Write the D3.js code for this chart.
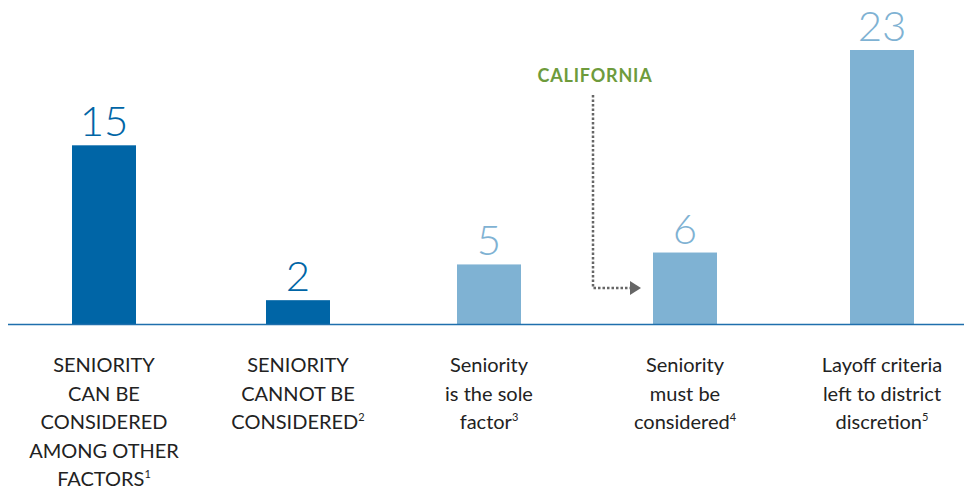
<!DOCTYPE html>
<html lang="en">
<head>
<meta charset="utf-8">
<title>Seniority in layoff decisions</title>
<script src="https://d3js.org/d3.v7.min.js"></script>
<style>
  body { margin: 0; background: #fff; }
  svg text { font-family: Lato, "Open Sans", sans-serif; }
  .cat { fill: #222; font-size: 20px; }
  .val { font-size: 42px; font-weight: 300; }
</style>
</head>
<body>
<div id="chart"></div>
<script>
  // data
  var categories = ["can", "cannot", "sole", "must", "left"];
  var values = [15, 2, 5, 6, 23];
  var shades = ["dark", "dark", "light", "light", "light"];
  var labels = [
    ["SENIORITY", "CAN BE", "CONSIDERED", "AMONG OTHER", "FACTORS|1"],
    ["SENIORITY", "CANNOT BE", "CONSIDERED|2"],
    ["Seniority", "is the sole", "factor|3"],
    ["Seniority", "must be", "considered|4"],
    ["Layoff criteria", "left to district", "discretion|5"]
  ];
  var calloutText = "CALIFORNIA";
  var calloutTarget = "must";

  var W = 964, H = 489;
  var colors = {dark: "#0065a6", light: "#7fb2d3"};

  var svg = d3.select("#chart").append("svg")
    .attr("width", W).attr("height", H);

  // column centres are not quite evenly spaced in the original
  var x = d3.scaleOrdinal().domain(categories).range([104, 298, 489, 685, 882]);
  var y = d3.scaleLinear().domain([0, 23]).range([324, 50]);
  var barW = 64;

  // bars
  svg.selectAll("rect.bar").data(values).enter().append("rect")
    .attr("class", "bar")
    .attr("x", function(d, i) { return x(categories[i]) - barW / 2; })
    .attr("y", function(d) { return y(d); })
    .attr("width", barW)
    .attr("height", function(d) { return y(0) - y(d); })
    .attr("fill", function(d, i) { return colors[shades[i]]; });

  // baseline
  svg.append("line")
    .attr("x1", 8).attr("x2", W)
    .attr("y1", y(0) + 0.5).attr("y2", y(0) + 0.5)
    .attr("stroke", "#1f6fad").attr("stroke-width", 1.5);

  // value labels
  svg.selectAll("text.val").data(values).enter().append("text")
    .attr("class", "val")
    .attr("x", function(d, i) { return x(categories[i]); })
    .attr("y", function(d) { return y(d) - 9; })
    .attr("text-anchor", "middle")
    .attr("fill", function(d, i) { return colors[shades[i]]; })
    .text(function(d) { return d; });

  // category labels with footnote superscripts
  labels.forEach(function(lines, i) {
    var t = svg.append("text").attr("class", "cat")
      .attr("text-anchor", "middle")
      .attr("x", x(categories[i]))
      .attr("y", 372);
    lines.forEach(function(line, j) {
      var parts = line.split("|");
      t.append("tspan")
        .attr("x", x(categories[i]))
        .attr("dy", j === 0 ? 0 : 28.5)
        .text(parts[0]);
      if (parts[1]) {
        t.append("tspan")
          .attr("font-size", "11px")
          .attr("dy", -8)
          .text(parts[1]);
        t.append("tspan").attr("dy", 8).text("");
      }
    });
  });

  // California callout
  var cx = 593, tx = x(calloutTarget) - barW / 2;
  svg.append("text")
    .attr("x", cx + 2).attr("y", 82)
    .attr("text-anchor", "middle")
    .attr("fill", "#6e9b3c")
    .attr("font-weight", "bold")
    .attr("font-size", "18px")
    .attr("letter-spacing", "0.8px")
    .text(calloutText);

  svg.append("path")
    .attr("d", "M" + cx + ",95 V" + 288 + " H" + (tx - 22))
    .attr("fill", "none")
    .attr("stroke", "#666")
    .attr("stroke-width", 2.5)
    .attr("stroke-dasharray", "2.5,2");

  svg.append("path")
    .attr("d", "M" + (tx - 23) + ",281 L" + (tx - 12) + ",288 L" + (tx - 23) + ",295 Z")
    .attr("fill", "#666");
</script>
</body>
</html>
